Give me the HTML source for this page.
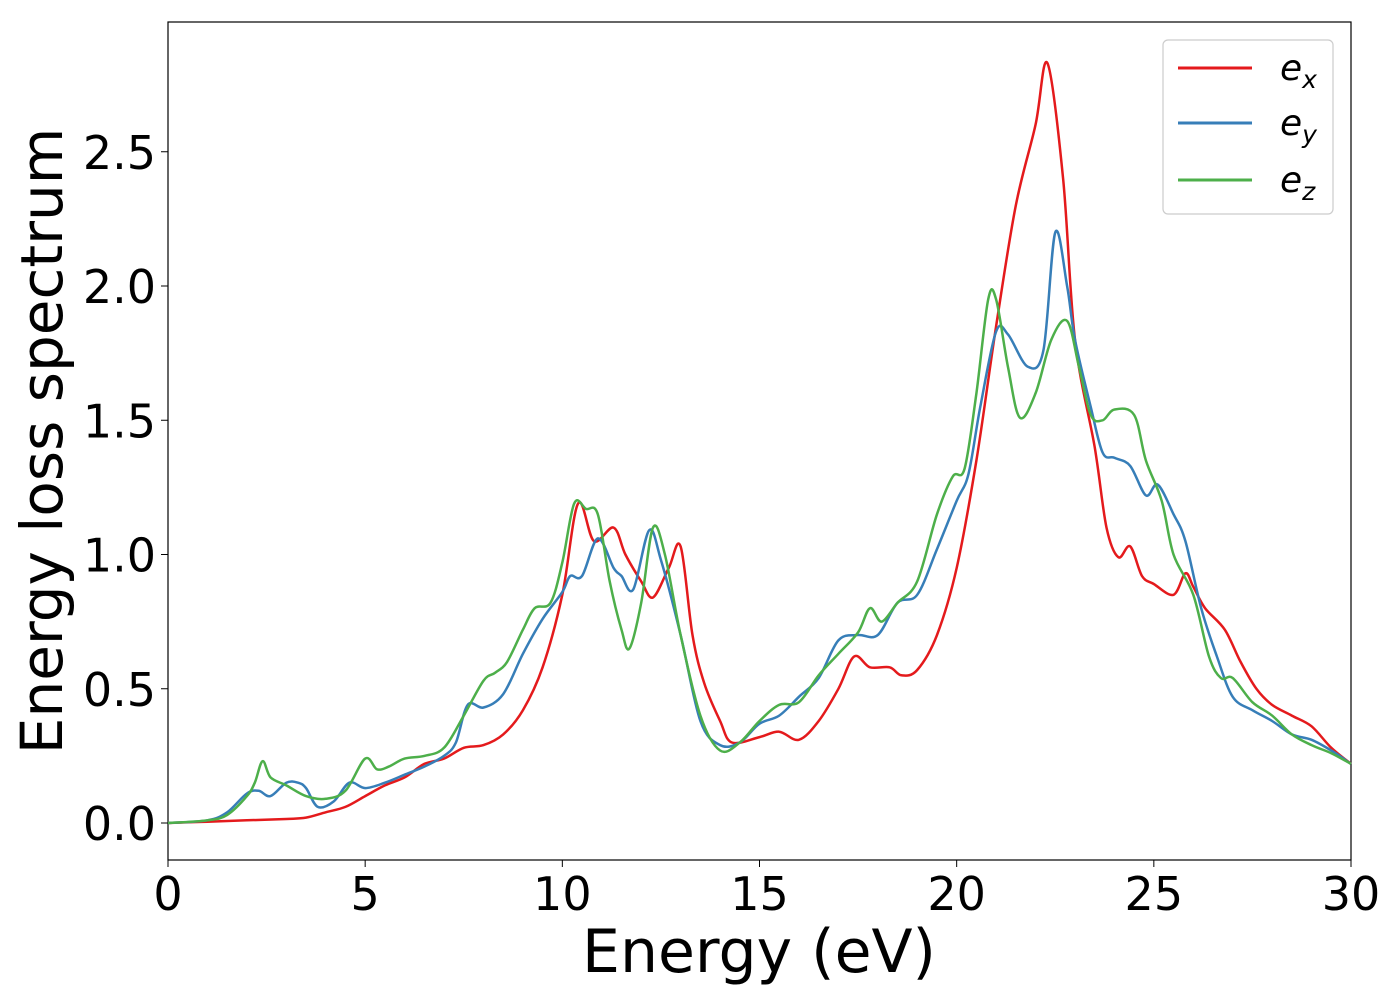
<!DOCTYPE html>
<html><head><meta charset="utf-8"><style>
body{margin:0;background:#fff;}
svg{display:block;font-family:"DejaVu Sans","Liberation Sans",sans-serif;}
</style></head><body>
<svg id="chart" width="1400" height="1000">
<rect x="168" y="22" width="1183" height="838" fill="#fff" stroke="#000" stroke-width="1.2"/>
<g id="series"></g>
<g id="ticks"></g>
<text x="759" y="972" font-size="60" text-anchor="middle">Energy (eV)</text>
<text transform="translate(62,441) rotate(-90)" font-size="58" text-anchor="middle">Energy loss spectrum</text>
<g>
<rect x="1163" y="40" width="170" height="174" rx="5" fill="#fff" stroke="#ccc" stroke-width="1.2"/>
<g><line x1="1178" y1="68" x2="1252" y2="68" stroke="#e41a1c" stroke-width="3"/><text x="1280" y="80" font-size="36" font-style="italic">e<tspan font-size="25" dy="8">x</tspan></text></g>
<g><line x1="1178" y1="123" x2="1252" y2="123" stroke="#377eb8" stroke-width="3"/><text x="1280" y="135" font-size="36" font-style="italic">e<tspan font-size="25" dy="8">y</tspan></text></g>
<g><line x1="1178" y1="180" x2="1252" y2="180" stroke="#4daf4a" stroke-width="3"/><text x="1280" y="192" font-size="36" font-style="italic">e<tspan font-size="25" dy="8">z</tspan></text></g>
</g>
</svg>
<script>
const xTicks=[0,5,10,15,20,25,30];
const yTicks=[0.0,0.5,1.0,1.5,2.0,2.5];
const yTickLabels=["0.0","0.5","1.0","1.5","2.0","2.5"];
const exX=[0,1,2,3,3.5,4,4.5,5,5.5,6,6.5,7,7.5,8,8.5,9,9.5,10,10.4,10.8,11.3,11.6,12,12.3,12.7,13,13.3,13.6,14,14.3,15,15.5,16,16.5,17,17.4,17.8,18.3,18.6,19,19.5,20,20.5,21,21.5,22,22.3,22.7,23,23.5,23.8,24.1,24.4,24.7,25,25.5,25.8,26,26.3,26.8,27.2,27.6,28,28.5,29,29.5,30];
const exY=[0,0.005,0.01,0.015,0.02,0.04,0.06,0.1,0.14,0.17,0.22,0.24,0.28,0.29,0.33,0.42,0.58,0.85,1.19,1.05,1.1,1.0,0.9,0.84,0.95,1.03,0.7,0.52,0.38,0.3,0.32,0.34,0.31,0.38,0.5,0.62,0.58,0.58,0.55,0.57,0.7,0.95,1.35,1.85,2.3,2.6,2.83,2.4,1.8,1.4,1.1,0.99,1.03,0.92,0.89,0.85,0.93,0.88,0.8,0.72,0.6,0.5,0.44,0.4,0.36,0.28,0.22];
const eyX=[0,1,1.5,2,2.3,2.6,3,3.3,3.5,3.8,4.2,4.6,5,5.5,6,6.5,7,7.3,7.6,8,8.5,9,9.5,10,10.2,10.5,10.9,11.3,11.5,11.8,12.2,12.5,13,13.5,14,14.5,15,15.5,16,16.5,17,17.5,18,18.5,19,19.5,20,20.3,20.6,21,21.3,21.8,22.2,22.5,22.8,23,23.4,23.7,24,24.4,24.8,25.1,25.5,25.8,26.2,26.6,27,27.5,28,28.5,29,29.5,30];
const eyY=[0,0.01,0.04,0.11,0.12,0.1,0.15,0.15,0.13,0.06,0.08,0.15,0.13,0.15,0.18,0.21,0.25,0.3,0.44,0.43,0.48,0.63,0.76,0.86,0.92,0.92,1.06,0.95,0.92,0.87,1.09,0.98,0.7,0.38,0.29,0.3,0.37,0.4,0.47,0.54,0.68,0.7,0.7,0.82,0.85,1.02,1.2,1.3,1.55,1.83,1.82,1.7,1.76,2.2,2.0,1.8,1.55,1.38,1.36,1.33,1.22,1.26,1.15,1.05,0.8,0.62,0.47,0.42,0.38,0.33,0.31,0.27,0.22];
const ezX=[0,1,1.5,2,2.2,2.4,2.6,3,3.5,4,4.5,5,5.3,5.6,6,6.5,7,7.5,8,8.3,8.6,9,9.3,9.7,10,10.3,10.6,10.9,11.2,11.5,11.7,12,12.3,12.6,13,13.5,14,14.5,15,15.5,16,16.5,17,17.5,17.8,18.1,18.5,19,19.5,19.9,20.2,20.5,20.8,21,21.3,21.6,22,22.4,22.8,23.1,23.4,23.7,24,24.5,24.8,25.2,25.5,26,26.4,26.7,27,27.5,28,28.5,29,29.5,30];
const ezY=[0,0.01,0.03,0.1,0.15,0.23,0.17,0.14,0.1,0.09,0.12,0.24,0.2,0.21,0.24,0.25,0.28,0.4,0.53,0.56,0.6,0.72,0.8,0.82,0.97,1.19,1.17,1.15,0.9,0.72,0.65,0.82,1.1,1.0,0.7,0.4,0.27,0.3,0.38,0.44,0.45,0.55,0.63,0.71,0.8,0.75,0.82,0.9,1.15,1.29,1.32,1.6,1.95,1.95,1.7,1.51,1.6,1.8,1.87,1.7,1.52,1.5,1.54,1.52,1.35,1.2,1.0,0.85,0.62,0.54,0.54,0.45,0.4,0.33,0.29,0.26,0.22];
const NS='http://www.w3.org/2000/svg';
const X0=168,X1=1351,Y0=823,PPU=268.5;
function sx(v){return X0+(v/30)*(X1-X0);}
function sy(v){return Y0-v*PPU;}
function pathFor(xs,ys){
  const p=xs.map((x,i)=>[sx(x),sy(ys[i])]);
  let d='M'+p[0][0].toFixed(1)+','+p[0][1].toFixed(1);
  for(let i=0;i<p.length-1;i++){
    const a=p[Math.max(0,i-1)],b=p[i],c=p[i+1],e=p[Math.min(p.length-1,i+2)];
    const c1=[b[0]+(c[0]-a[0])/6,b[1]+(c[1]-a[1])/6];
    const c2=[c[0]-(e[0]-b[0])/6,c[1]-(e[1]-b[1])/6];
    d+=' C'+c1[0].toFixed(1)+','+c1[1].toFixed(1)+' '+c2[0].toFixed(1)+','+c2[1].toFixed(1)+' '+c[0].toFixed(1)+','+c[1].toFixed(1);
  }
  return d;
}
const g=document.getElementById('series');
[['ex',exX,exY,'#e41a1c'],['ey',eyX,eyY,'#377eb8'],['ez',ezX,ezY,'#4daf4a']].forEach(s=>{
  const el=document.createElementNS(NS,'path');
  el.setAttribute('d',pathFor(s[1],s[2]));
  el.setAttribute('fill','none');el.setAttribute('stroke',s[3]);el.setAttribute('stroke-width','2.5');
  
  
  g.appendChild(el);
});
const t=document.getElementById('ticks');
xTicks.forEach(v=>{
  const l=document.createElementNS(NS,'line');
  l.setAttribute('x1',sx(v));l.setAttribute('x2',sx(v));l.setAttribute('y1',860);l.setAttribute('y2',867);l.setAttribute('stroke','#000');
  
  
  t.appendChild(l);
  const tx=document.createElementNS(NS,'text');
  tx.setAttribute('x',sx(v));tx.setAttribute('y',910);tx.setAttribute('font-size','46');tx.setAttribute('text-anchor','middle');
  tx.textContent=v;
  
  
  t.appendChild(tx);
});
yTicks.forEach((v,i)=>{
  const l=document.createElementNS(NS,'line');
  l.setAttribute('x1',161);l.setAttribute('x2',168);l.setAttribute('y1',sy(v));l.setAttribute('y2',sy(v));l.setAttribute('stroke','#000');
  
  
  t.appendChild(l);
  const tx=document.createElementNS(NS,'text');
  tx.setAttribute('x',156);tx.setAttribute('y',sy(v)+17);tx.setAttribute('font-size','46');tx.setAttribute('text-anchor','end');
  tx.textContent=yTickLabels[i];
  
  
  t.appendChild(tx);
});
</script>
</body></html>
